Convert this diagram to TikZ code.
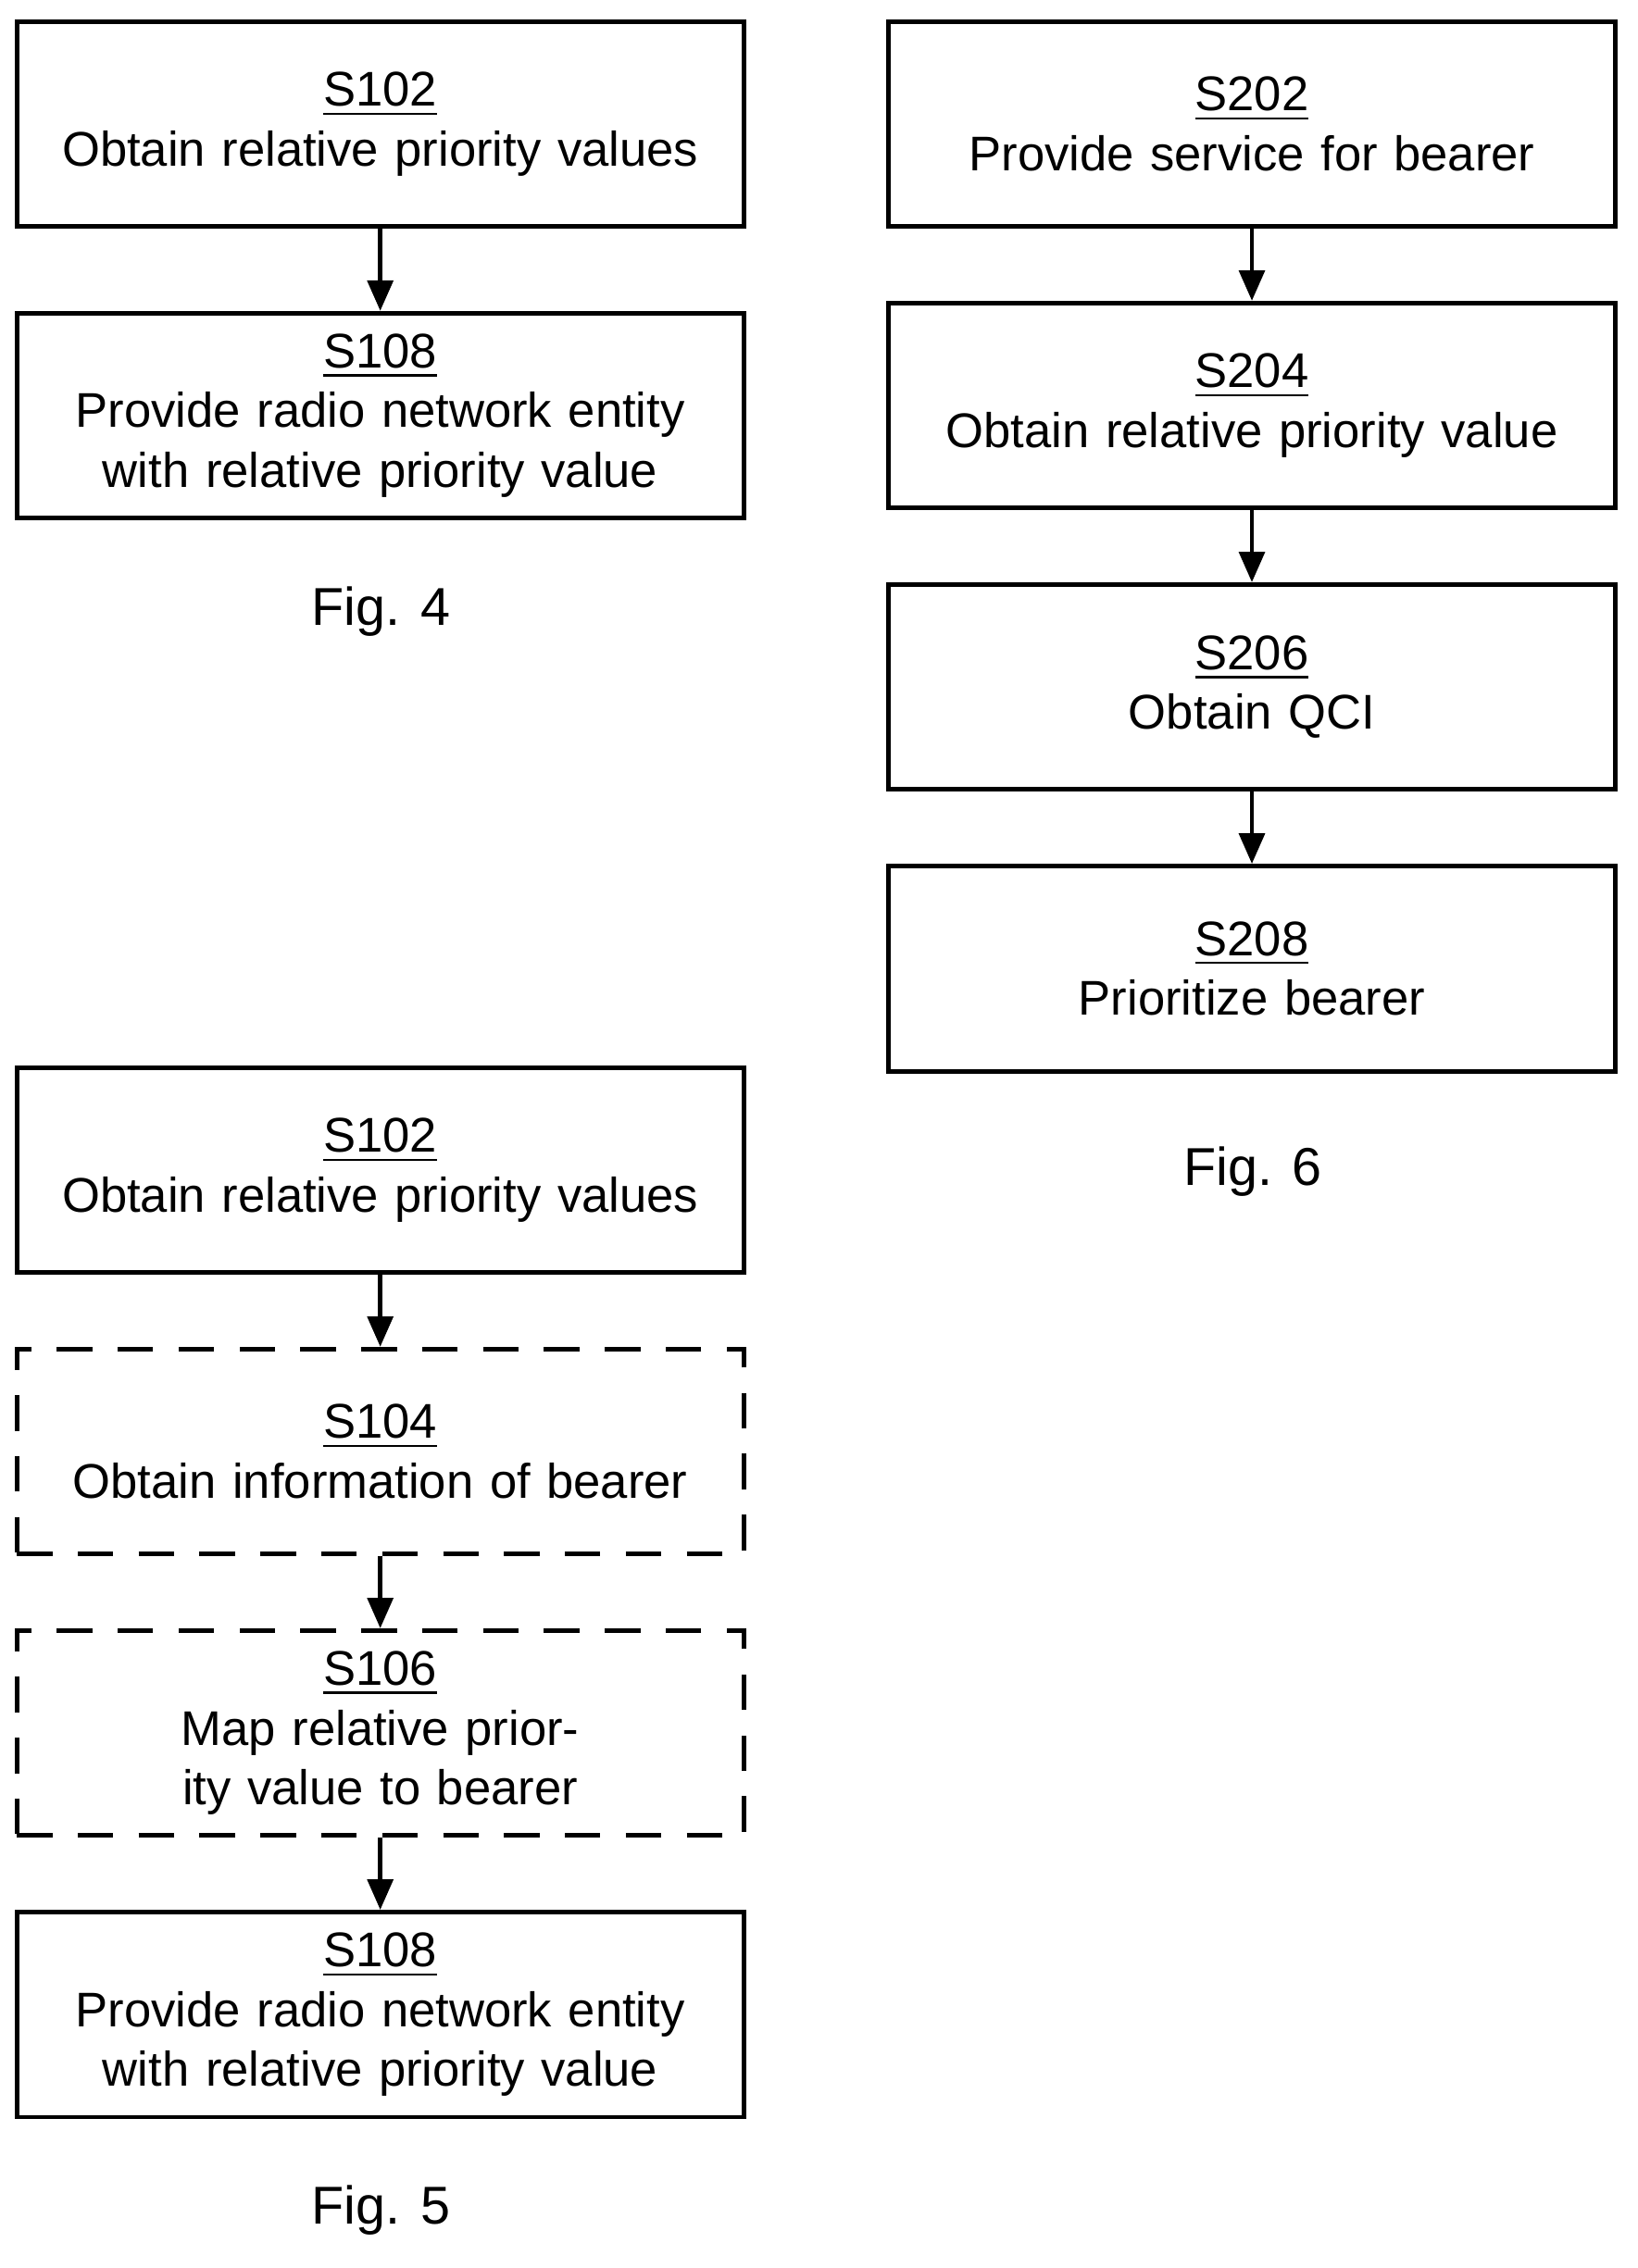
\documentclass[tikz,border=0pt]{standalone}
\usepackage{fontspec}
\setmainfont{Liberation Sans}
\usetikzlibrary{positioning, arrows.meta}

\begin{document}
\begin{tikzpicture}[x=0.01cm,y=0.01cm,node distance=1.95cm,on grid,
    line width=0.9pt,
    stepbox/.style={draw, minimum width=4.99cm, minimum height=1.42cm, text width=4.8cm,
                 align=center, font=\fontsize{9.6}{11.8}\selectfont},
    optbox/.style={stepbox, dashed, dash pattern=on 7pt off 5pt},
    flow/.style={-{Triangle[length=6pt,width=5pt]}},
    figcap/.style={font=\fontsize{10.5}{12}\selectfont}]
    \useasboundingbox (0,0) rectangle (1135,-1572);
    % Fig. 4
    \node[stepbox]  (a1)    at (263.5,-86)          {\underline{S102}\\Obtain relative priority values};
    \node[stepbox]  (a2)    [below=2.02cm of a1]    {\underline{S108}\\Provide radio network entity with relative priority value};
    \node[figcap]   (f4)    at (264,-424)           {Fig. 4};
    \draw[flow] (a1) -- (a2);

    % Fig. 6
    \node[stepbox]  (c1)    at (867.5,-86)          {\underline{S202}\\Provide service for bearer};
    \node[stepbox]  (c2)    [below=of c1]           {\underline{S204}\\Obtain relative priority value};
    \node[stepbox]  (c3)    [below=of c2]           {\underline{S206}\\Obtain QCI};
    \node[stepbox]  (c4)    [below=of c3]           {\underline{S208}\\Prioritize bearer};
    \node[figcap]   (f6)    at (868,-812)           {Fig. 6};
    \draw[flow] (c1) -- (c2);
    \draw[flow] (c2) -- (c3);
    \draw[flow] (c3) -- (c4);

    % Fig. 5
    \node[stepbox]  (b1)    at (263.5,-811)         {\underline{S102}\\Obtain relative priority values};
    \node[optbox]   (b2)    [below=of b1]           {\underline{S104}\\Obtain information of bearer};
    \node[optbox]   (b3)    [below=of b2]           {\underline{S106}\\Map relative priority value to bearer};
    \node[stepbox]  (b4)    [below=of b3]           {\underline{S108}\\Provide radio network entity with relative priority value};
    \node[figcap]   (f5)    at (264,-1532)          {Fig. 5};
    \draw[flow] (b1) -- (b2);
    \draw[flow] (b2) -- (b3);
    \draw[flow] (b3) -- (b4);
\end{tikzpicture}
\end{document}
